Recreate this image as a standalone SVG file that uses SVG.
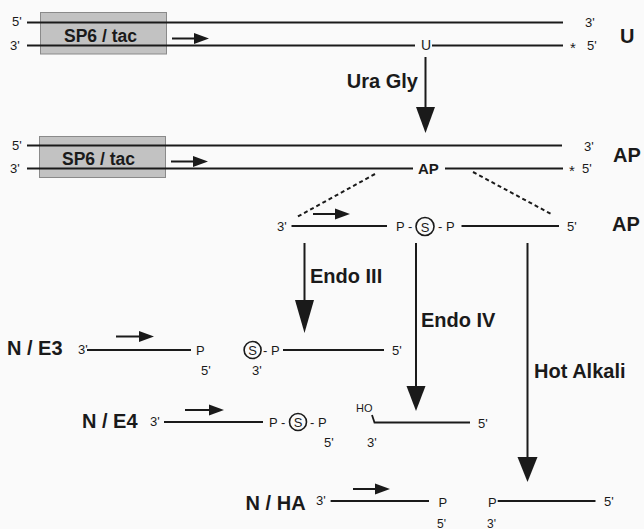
<svg xmlns="http://www.w3.org/2000/svg" width="644" height="529" viewBox="0 0 644 529">
<defs>
<style>
.s{stroke:#1a1a1a;stroke-width:2;fill:none}
.t{font-family:"Liberation Sans",Arial,sans-serif;font-size:13px;fill:#1a1a1a}
.b{font-family:"Liberation Sans",Arial,sans-serif;font-size:20px;font-weight:bold;fill:#1a1a1a}
.box{fill:#c2c2c2;stroke:#8a8a8a;stroke-width:1}
.bt{font-family:"Liberation Sans",Arial,sans-serif;font-size:17.5px;font-weight:bold;fill:#1a1a1a}
.h{fill:#1a1a1a}
.d{stroke:#1a1a1a;stroke-width:2;stroke-dasharray:4 3;fill:none}
.c{fill:none;stroke:#1a1a1a;stroke-width:1.6}
</style>
</defs>
<rect width="644" height="529" fill="#fafafa"/>

<g id="duplex-U">
<rect class="box" x="40.5" y="12.5" width="126" height="41.5"/>
<line class="s" x1="27" y1="22.5" x2="563" y2="22.5"/>
<line class="s" x1="27" y1="45.5" x2="415" y2="45.5"/>
<line class="s" x1="432" y1="45.5" x2="563" y2="45.5"/>
<text class="t" x="12" y="26">5'</text>
<text class="t" x="10" y="50">3'</text>
<text class="bt" x="64" y="42">SP6 / tac</text>
<line class="s" x1="172" y1="38.5" x2="196" y2="38.5"/>
<polygon class="h" points="194,33 209,38.5 194,44"/>
<text class="t" x="421" y="50" style="font-size:14px">U</text>
<text class="t" x="585" y="27">3'</text>
<text class="t" x="570" y="53" style="font-size:15px">*</text>
<text class="t" x="587" y="50">5'</text>
<text class="b" x="620" y="43">U</text>
</g>

<g id="duplex-AP">
<rect class="box" x="39.5" y="136.5" width="126" height="41"/>
<line class="s" x1="27" y1="145.5" x2="562" y2="145.5"/>
<line class="s" x1="27" y1="168.5" x2="413" y2="168.5"/>
<line class="s" x1="445" y1="168.5" x2="563" y2="168.5"/>
<text class="t" x="12" y="150">5'</text>
<text class="t" x="10" y="173">3'</text>
<text class="bt" x="62" y="165">SP6 / tac</text>
<line class="s" x1="171" y1="161.5" x2="195" y2="161.5"/>
<polygon class="h" points="193,156 208,161.5 193,167"/>
<text class="t" x="418" y="173.5" style="font-weight:bold;font-size:15px">AP</text>
<text class="t" x="584" y="151">3'</text>
<text class="t" x="569" y="176" style="font-size:15px">*</text>
<text class="t" x="582" y="173">5'</text>
<text class="b" x="613" y="162">AP</text>
</g>

<g id="strand-AP">
<text class="t" x="277" y="231">3'</text>
<line class="s" x1="291.5" y1="226" x2="387" y2="226"/>
<line class="s" x1="313" y1="214" x2="337" y2="214"/>
<polygon class="h" points="335,208.5 350,214 335,219.5"/>
<text class="t" x="396" y="231">P -</text>
<circle class="c" cx="425" cy="226.5" r="9"/>
<text class="t" x="425" y="231.5" text-anchor="middle">S</text>
<text class="t" x="438" y="231">- P</text>
<line class="s" x1="461.5" y1="226" x2="559" y2="226"/>
<text class="t" x="567" y="231">5'</text>
<text class="b" x="612" y="231">AP</text>
</g>

<g id="product-NE3">
<text class="b" x="7" y="355">N / E3</text>
<text class="t" x="78" y="354">3'</text>
<line class="s" x1="87" y1="350" x2="191" y2="350"/>
<line class="s" x1="116" y1="336.5" x2="141" y2="336.5"/>
<polygon class="h" points="139,331 154,336.5 139,342"/>
<text class="t" x="196" y="355">P</text>
<circle class="c" cx="252.6" cy="350" r="8.5"/>
<text class="t" x="252.6" y="355" text-anchor="middle">S</text>
<text class="t" x="263" y="355">- P</text>
<line class="s" x1="283" y1="350" x2="384" y2="350"/>
<text class="t" x="392" y="355">5'</text>
<text class="t" x="201" y="375">5'</text>
<text class="t" x="252" y="375">3'</text>
</g>

<g id="product-NE4">
<text class="b" x="82" y="428">N / E4</text>
<text class="t" x="150" y="426">3'</text>
<line class="s" x1="164" y1="422" x2="263" y2="422"/>
<line class="s" x1="185" y1="410" x2="211" y2="410"/>
<polygon class="h" points="209,404.5 224,410 209,415.5"/>
<text class="t" x="269" y="427">P -</text>
<circle class="c" cx="298" cy="422" r="8.5"/>
<text class="t" x="298" y="427" text-anchor="middle">S</text>
<text class="t" x="310" y="427">- P</text>
<text class="t" x="324" y="447">5'</text>
<text class="t" x="367" y="447">3'</text>
<text class="t" x="356" y="412" style="font-size:11px">HO</text>
<path class="s" d="M372,415 L374.5,422.5 L470,422.5" style="stroke-width:1.8"/>
<text class="t" x="478" y="428">5'</text>
</g>

<g id="product-NHA">
<text class="b" x="245.6" y="510">N / HA</text>
<text class="t" x="316" y="505">3'</text>
<line class="s" x1="330.6" y1="501" x2="429" y2="501"/>
<line class="s" x1="353" y1="489" x2="377" y2="489"/>
<polygon class="h" points="375,483.5 390,489 375,494.5"/>
<text class="t" x="438.6" y="507">P</text>
<text class="t" x="488" y="507">P</text>
<line class="s" x1="497.7" y1="501" x2="595.5" y2="501"/>
<text class="t" x="604" y="506">5'</text>
<text class="t" x="437" y="527.5" style="font-size:12px">5'</text>
<text class="t" x="487" y="527.5" style="font-size:12px">3'</text>
</g>

<g id="connectors">
<line class="s" x1="425.5" y1="57" x2="425.5" y2="108"/>
<polygon class="h" points="416,107 435,107 425.5,133"/>
<text class="b" x="418" y="88" text-anchor="end">Ura Gly</text>
<line class="d" x1="375" y1="174" x2="297" y2="217"/>
<line class="d" x1="473" y1="172" x2="553" y2="215"/>
<line class="s" x1="304.5" y1="243" x2="304.5" y2="301"/>
<polygon class="h" points="295,300 314,300 304.5,333"/>
<text class="b" x="310" y="283">Endo III</text>
<line class="s" x1="416" y1="243" x2="416" y2="387"/>
<polygon class="h" points="406.5,386 425.5,386 416,411"/>
<text class="b" x="421" y="327">Endo IV</text>
<line class="s" x1="527.5" y1="243" x2="527.5" y2="458"/>
<polygon class="h" points="517.5,457 537.5,457 527.5,482"/>
<text class="b" x="534" y="378">Hot Alkali</text>
</g>
</svg>
